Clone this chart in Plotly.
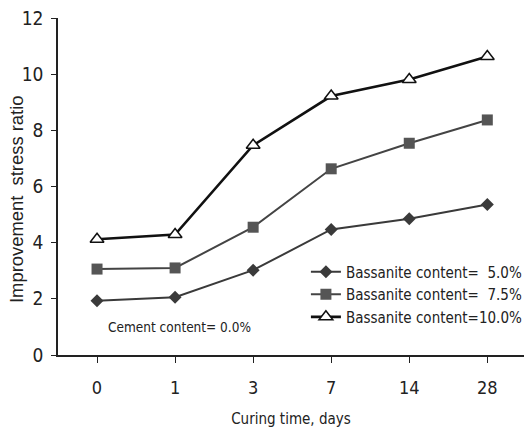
import plotly.graph_objects as go

# Curing time categories (days) and improvement stress ratios
curing_days = ["0", "1", "3", "7", "14", "28"]
ratio_5_0 = [1.93, 2.06, 3.02, 4.47, 4.85, 5.36]
ratio_7_5 = [3.06, 3.10, 4.55, 6.63, 7.54, 8.37]
ratio_10_0 = [4.12, 4.29, 7.47, 9.22, 9.81, 10.63]

series_names = [
    "Bassanite content=  5.0%",
    "Bassanite content=  7.5%",
    "Bassanite content=10.0%",
]

narrow = "DejaVu Sans Condensed, Liberation Sans Narrow, Arial Narrow, sans-serif"
regular = "Liberation Sans, Arial, sans-serif"

fig = go.Figure()
fig.add_trace(go.Scatter(
    x=curing_days, y=ratio_5_0, name=series_names[0], mode="lines+markers",
    line=dict(color="#3a3a3a", width=2),
    marker=dict(symbol="diamond", size=10, color="#3a3a3a"),
))
fig.add_trace(go.Scatter(
    x=curing_days, y=ratio_7_5, name=series_names[1], mode="lines+markers",
    line=dict(color="#444444", width=2),
    marker=dict(symbol="square", size=11, color="#555555"),
))
fig.add_trace(go.Scatter(
    x=curing_days, y=ratio_10_0, name=series_names[2], mode="lines+markers",
    line=dict(color="#111111", width=2.6),
    marker=dict(symbol="triangle-up", size=12, color="white",
                line=dict(color="#111111", width=1.5)),
))

# Test condition note inside the plot
fig.add_annotation(
    text="Cement content= 0.0%", xref="paper", yref="paper",
    x=(106 - 58) / 466, y=(355 - 327) / 337, xanchor="left", yanchor="middle",
    showarrow=False, font=dict(family=narrow, size=13.5, color="#222"),
)

# Y-axis title
fig.add_annotation(
    text="Improvement  stress ratio", xref="paper", yref="paper",
    x=(16 - 58) / 466, y=(355 - 200) / 337, xanchor="center", yanchor="middle",
    textangle=-90, showarrow=False,
    font=dict(family=regular, size=18.4, color="#222"),
)

fig.update_layout(
    width=524, height=430,
    margin=dict(l=58, r=0, t=18, b=75, autoexpand=False),
    paper_bgcolor="white", plot_bgcolor="white",
    showlegend=True,
    legend=dict(
        x=0.532, y=0.295, xanchor="left", yanchor="top",
        font=dict(family=narrow, size=15, color="#222"),
        bgcolor="rgba(0,0,0,0)", tracegroupgap=0, itemwidth=30,
    ),
    xaxis=dict(
        type="category", range=[-0.5, 5.47],
        showgrid=False, zeroline=False,
        showline=True, linecolor="#222", linewidth=1.6,
        ticks="outside", ticklen=6, tickcolor="#222", tickwidth=1.2,
        ticklabelstandoff=10,
        tickfont=dict(family=narrow, size=18, color="#222"),
        title=dict(text="Curing time, days", standoff=16,
                   font=dict(family=narrow, size=15, color="#222")),
    ),
    yaxis=dict(
        range=[0, 12], tickvals=[0, 2, 4, 6, 8, 10, 12],
        showgrid=False, zeroline=False,
        showline=True, linecolor="#222", linewidth=1.6,
        ticks="outside", ticklen=5, tickcolor="#222", tickwidth=1.2,
        ticklabelstandoff=4,
        tickfont=dict(family=narrow, size=19, color="#222"),
    ),
)

fig.write_html("out.html")
